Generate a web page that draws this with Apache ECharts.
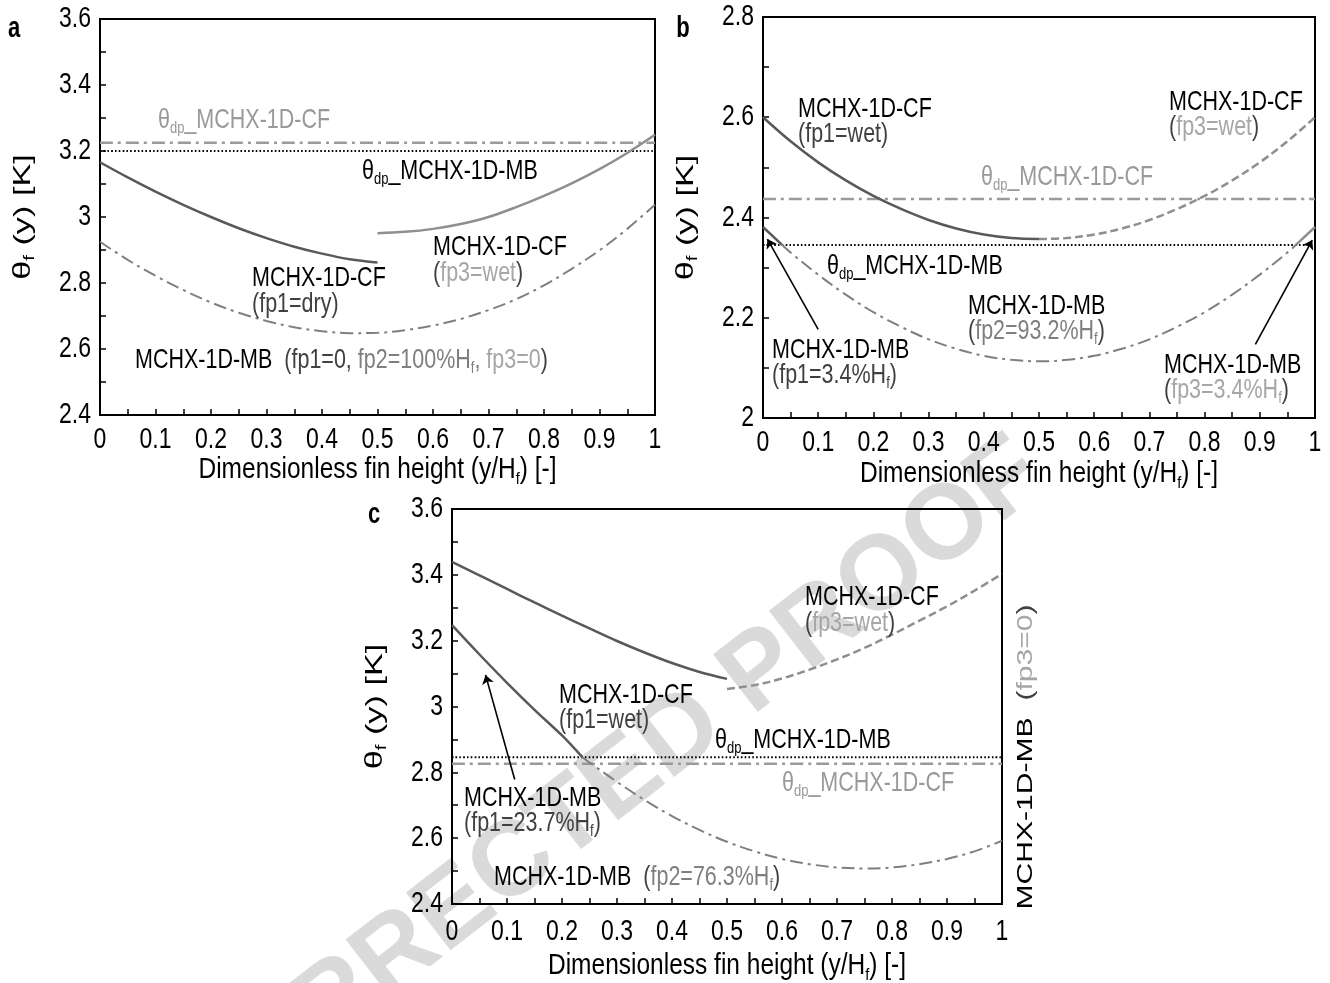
<!DOCTYPE html>
<html>
<head>
<meta charset="utf-8">
<script src="https://cdn.jsdelivr.net/npm/echarts@6/dist/echarts.min.js"></script>
<style>
  html, body { margin: 0; padding: 0; background: #ffffff; }
  #chart { width: 1330px; height: 983px; }
</style>
</head>
<body>
<div id="chart"></div>
<script>
// ---- positions along the fin (y/Hf) ----
const xLeftHalf  = [0, 0.05, 0.1, 0.15, 0.2, 0.25, 0.3, 0.35, 0.4, 0.45, 0.5];
const xRightHalf = [0.5, 0.55, 0.6, 0.65, 0.7, 0.75, 0.8, 0.85, 0.9, 0.95, 1];
const xFull      = [0, 0.05, 0.1, 0.15, 0.2, 0.25, 0.3, 0.35, 0.4, 0.45, 0.5,
                    0.55, 0.6, 0.65, 0.7, 0.75, 0.8, 0.85, 0.9, 0.95, 1];

// ---- tick labels ----
const xTickValues = [0, 0.1, 0.2, 0.3, 0.4, 0.5, 0.6, 0.7, 0.8, 0.9, 1];
const xTickLabels = ['0', '0.1', '0.2', '0.3', '0.4', '0.5', '0.6', '0.7', '0.8', '0.9', '1'];
const yTickValuesAC = [2.4, 2.6, 2.8, 3, 3.2, 3.4, 3.6];
const yTickLabelsAC = ['2.4', '2.6', '2.8', '3', '3.2', '3.4', '3.6'];
const yTickValuesB  = [2, 2.2, 2.4, 2.6, 2.8];
const yTickLabelsB  = ['2', '2.2', '2.4', '2.6', '2.8'];

// ---- panel a : fin temperature θf(y) [K] ----
const aCfFp1Dry = [3.166, 3.120, 3.077, 3.037, 3.000, 2.966, 2.936, 2.910, 2.889, 2.872, 2.862];
const aCfFp3Wet = [2.951, 2.955, 2.964, 2.979, 3.000, 3.030, 3.064, 3.102, 3.145, 3.194, 3.249];
const aMbFp2    = [2.925, 2.870, 2.822, 2.779, 2.741, 2.710, 2.685, 2.666, 2.654, 2.648, 2.649,
                   2.657, 2.671, 2.691, 2.718, 2.751, 2.793, 2.843, 2.899, 2.964, 3.037];
const aDewPointCF = 3.225;
const aDewPointMB = 3.200;

// ---- panel b ----
const bCfFp1Wet = [2.600, 2.552, 2.510, 2.474, 2.443, 2.417, 2.395, 2.378, 2.366, 2.359, 2.357];
const bCfFp3Wet = [2.357, 2.359, 2.366, 2.378, 2.395, 2.417, 2.443, 2.474, 2.510, 2.552, 2.600];
const bMbFp1X   = [0, 0.034];
const bMbFp1    = [2.381, 2.346];
const bMbFp2X   = [0.034, 0.05, 0.1, 0.15, 0.2, 0.25, 0.3, 0.35, 0.4, 0.45, 0.5,
                   0.55, 0.6, 0.65, 0.7, 0.75, 0.8, 0.85, 0.9, 0.95, 0.966];
const bMbFp2    = [2.346, 2.330, 2.286, 2.246, 2.211, 2.182, 2.157, 2.138, 2.124, 2.116, 2.113,
                   2.116, 2.124, 2.138, 2.157, 2.182, 2.211, 2.246, 2.286, 2.330, 2.346];
const bMbFp3X   = [0.966, 1];
const bMbFp3    = [2.346, 2.381];
const bDewPointCF = 2.437;
const bDewPointMB = 2.345;
const bArrowFp1 = [[0.100, 2.177], [0.008, 2.357]];
const bArrowFp3 = [[0.892, 2.147], [0.995, 2.355]];

// ---- panel c ----
const cCfFp1Wet = [3.439, 3.398, 3.357, 3.316, 3.276, 3.237, 3.199, 3.164, 3.132, 3.105, 3.084];
const cCfFp3Wet = [3.053, 3.065, 3.085, 3.112, 3.143, 3.178, 3.218, 3.261, 3.304, 3.352, 3.403];
const cMbFp1X   = [0, 0.05, 0.1, 0.15, 0.2, 0.237];
const cMbFp1    = [3.247, 3.158, 3.072, 2.990, 2.912, 2.846];
const cMbFp2X   = [0.237, 0.25, 0.3, 0.35, 0.4, 0.45, 0.5, 0.55, 0.6, 0.65, 0.7,
                   0.75, 0.8, 0.85, 0.9, 0.95, 1];
const cMbFp2    = [2.846, 2.830, 2.771, 2.716, 2.667, 2.625, 2.589, 2.560, 2.537, 2.521, 2.511,
                   2.508, 2.511, 2.521, 2.537, 2.560, 2.592];
const cDewPointCF = 2.826;
const cDewPointMB = 2.846;
const cArrowFp1 = [[0.114, 2.778], [0.061, 3.096]];

// ---- axis ranges ----
const yRanges = [[2.4, 3.6], [2.0, 2.8], [2.4, 3.6]];

// ---- styling ----
const FONT = '"Liberation Sans", Arial, Helvetica, sans-serif';
const C_BLACK = '#000000';
const C_DARK  = '#404040';
const C_MID   = '#7f7f7f';
const C_LIGHT = '#a6a6a6';
const C_DP    = '#999999';
const LINE_DARK  = '#595959';
const LINE_LIGHT = '#8f8f8f';
const LINE_MB    = '#7f7f7f';
const LINE_DPCF  = '#9a9a9a';
const DASH_DOT = [13, 5, 3, 5];
const DASHED   = [8, 4];
const DOTTED   = [1.6, 2.2];
const NOTE_SIZE = 21.5;
const TALL = 1.3;      // glyphs in this figure are drawn taller than wide
const LONG = 1.4;      // stretch of text running vertically

const zip = (xs, ys) => xs.map((x, i) => [x, ys[i]]);
const flat = (v) => [[0, v], [1, v]];

function curve(gi, data, color, width, type) {
  return {
    type: 'line', xAxisIndex: gi, yAxisIndex: gi, data: data,
    symbol: 'none', showSymbol: false, smooth: 0.35, silent: true,
    animation: false, z: 3,
    lineStyle: { color: color, width: width, type: type || 'solid' }
  };
}
function arrow(gi, coords) {
  return {
    type: 'lines', coordinateSystem: 'cartesian2d', xAxisIndex: gi, yAxisIndex: gi,
    data: [{ coords: coords }], symbol: ['none', 'arrow'], symbolSize: [0, 9],
    lineStyle: { color: '#000', width: 1.6, opacity: 1, curveness: 0 },
    silent: true, animation: false, z: 4
  };
}

// rich tokens (zrender style: fill)
function tok(color, size) {
  return { fill: color, fontSize: size, fontFamily: FONT, lineHeight: size + 5 };
}
function subTok(color, size) {
  return { fill: color, fontSize: size, fontFamily: FONT, lineHeight: 8, verticalAlign: 'bottom' };
}
const richSet = {
  k: tok(C_BLACK, NOTE_SIZE), d: tok(C_DARK, NOTE_SIZE), m: tok(C_MID, NOTE_SIZE),
  l: tok(C_LIGHT, NOTE_SIZE), g: tok(C_DP, NOTE_SIZE),
  ks: subTok(C_BLACK, 13), ds: subTok(C_DARK, 13), ms: subTok(C_MID, 13),
  ls: subTok(C_LIGHT, 13), gs: subTok(C_DP, 13),
  t: tok(C_BLACK, 24.5), ts: subTok(C_BLACK, 14.5)
};

function textEl(x, y, text, opt) {
  opt = opt || {};
  return {
    type: 'text', x: x, y: y, rotation: opt.rotation || 0,
    scaleX: opt.scaleX || 1, scaleY: opt.scaleY || 1,
    z: 10, silent: true,
    style: {
      text: text, rich: richSet, fontFamily: FONT, fontSize: opt.size || NOTE_SIZE,
      fontWeight: opt.weight || 'normal', fill: opt.fill || '#000',
      align: opt.align || 'left', verticalAlign: 'middle'
    }
  };
}
const note = (x, y, text) => textEl(x, y, text, { scaleY: TALL });

const gridBoxes = [
  { left: 100, top: 19, width: 555, height: 396 },
  { left: 763, top: 17, width: 552, height: 401 },
  { left: 452, top: 509, width: 550, height: 395 }
];
const grids = gridBoxes.map(g => Object.assign({}, g, {
  show: true, borderColor: '#000', borderWidth: 2, backgroundColor: 'transparent', containLabel: false
}));

const tickStyle = { show: true, inside: true, length: 6, lineStyle: { color: '#000', width: 1.5 } };
const minorStyle = { show: true, splitNumber: 2, length: 6, lineStyle: { color: '#000', width: 1.5 } };
const axisLineStyle = { show: true, onZero: false, lineStyle: { color: '#000', width: 2 } };

const xAxes = [0, 1, 2].map(i => ({
  type: 'value', gridIndex: i, min: 0, max: 1, interval: 0.1,
  axisLine: axisLineStyle, axisTick: tickStyle, minorTick: minorStyle,
  splitLine: { show: false }, axisLabel: { show: false }
}));
const yAxes = [0, 1, 2].map(i => ({
  type: 'value', gridIndex: i, min: yRanges[i][0], max: yRanges[i][1], interval: 0.2,
  axisLine: axisLineStyle, axisTick: tickStyle, minorTick: minorStyle,
  splitLine: { show: false }, axisLabel: { show: false }
}));

const series = [
  // panel a
  curve(0, flat(aDewPointCF), LINE_DPCF, 2.5, DASH_DOT),
  curve(0, flat(aDewPointMB), '#000', 2, DOTTED),
  curve(0, zip(xFull, aMbFp2), LINE_MB, 2, DASH_DOT),
  curve(0, zip(xLeftHalf, aCfFp1Dry), LINE_DARK, 2.5),
  curve(0, zip(xRightHalf, aCfFp3Wet), LINE_LIGHT, 2.5),
  // panel b
  curve(1, flat(bDewPointCF), LINE_DPCF, 2.5, DASH_DOT),
  curve(1, flat(bDewPointMB), '#000', 2, DOTTED),
  curve(1, zip(bMbFp1X, bMbFp1), LINE_DARK, 2.5),
  curve(1, zip(bMbFp2X, bMbFp2), LINE_MB, 2, DASH_DOT),
  curve(1, zip(bMbFp3X, bMbFp3), LINE_LIGHT, 2.5),
  curve(1, zip(xLeftHalf, bCfFp1Wet), LINE_DARK, 2.5),
  curve(1, zip(xRightHalf, bCfFp3Wet), LINE_LIGHT, 2.5, DASHED),
  arrow(1, bArrowFp1),
  arrow(1, bArrowFp3),
  // panel c
  curve(2, flat(cDewPointCF), LINE_DPCF, 2.5, DASH_DOT),
  curve(2, flat(cDewPointMB), '#000', 2, DOTTED),
  curve(2, zip(cMbFp1X, cMbFp1), LINE_DARK, 2.5),
  curve(2, zip(cMbFp2X, cMbFp2), LINE_MB, 2, DASH_DOT),
  curve(2, zip(xLeftHalf, cCfFp1Wet), LINE_DARK, 2.5),
  curve(2, zip(xRightHalf, cCfFp3Wet), LINE_LIGHT, 2.5, DASHED),
  arrow(2, cArrowFp1)
];

const chart = echarts.init(document.getElementById('chart'), null, { renderer: 'canvas' });
chart.setOption({
  animation: false,
  backgroundColor: '#ffffff',
  grid: grids,
  xAxis: xAxes,
  yAxis: yAxes,
  series: series
});

// ---- tick labels and axis titles, placed through each grid's scales ----
const panelText = { xLabelGap: [25, 25, 28], xTitleGap: [55, 56, 62], yTitleX: [23, 686, 375] };
const axisText = [];
[0, 1, 2].forEach(i => {
  const box = gridBoxes[i];
  const bottom = box.top + box.height;
  const yVals = i === 1 ? yTickValuesB : yTickValuesAC;
  const yLabs = i === 1 ? yTickLabelsB : yTickLabelsAC;
  xTickValues.forEach((v, k) => {
    const px = chart.convertToPixel({ gridIndex: i }, [v, yRanges[i][0]]);
    axisText.push(textEl(px[0], bottom + panelText.xLabelGap[i], xTickLabels[k],
      { size: 23, align: 'center', scaleY: TALL }));
  });
  yVals.forEach((v, k) => {
    const px = chart.convertToPixel({ gridIndex: i }, [0, v]);
    axisText.push(textEl(box.left - 9, px[1], yLabs[k],
      { size: 23, align: 'right', scaleY: TALL }));
  });
  axisText.push(textEl(box.left + box.width / 2, bottom + panelText.xTitleGap[i],
    '{t|Dimensionless fin height (y/H}{ts|f}{t|) [-]}', { size: 24.5, align: 'center', scaleY: 1.2 }));
  axisText.push(textEl(panelText.yTitleX[i], box.top + box.height / 2,
    '{t|θ}{ts|f}{t| (y) [K]}', { size: 24.5, align: 'center', rotation: Math.PI / 2, scaleX: LONG }));
});

const graphic = [
  // proof stamp across the lower figure
  {
    type: 'text', x: 1032, y: 462, rotation: 0.66, z: -1, silent: true,
    style: { text: 'UNCORRECTED PROOF', fontFamily: FONT, fontSize: 106, fontWeight: 'bold',
             fill: '#dadada', align: 'right', verticalAlign: 'middle' }
  },
  textEl(14, 29, 'a', { size: 22, weight: 'bold', align: 'center', scaleY: TALL }),
  textEl(683, 29, 'b', { size: 22, weight: 'bold', align: 'center', scaleY: TALL }),
  textEl(374, 515, 'c', { size: 22, weight: 'bold', align: 'center', scaleY: TALL }),

  // panel a notes
  note(158, 120, '{g|θ}{gs|dp}{g|_MCHX-1D-CF}'),
  note(362, 171, '{k|θ}{ks|dp}{k|_MCHX-1D-MB}'),
  note(252, 278, '{k|MCHX-1D-CF}'),
  note(252, 304, '{d|(fp1=dry)}'),
  note(433, 247, '{k|MCHX-1D-CF}'),
  note(433, 273, '{d|(}{l|fp3=wet}{d|)}'),
  note(135, 360, '{k|MCHX-1D-MB  }{d|(fp1=0, }{m|fp2=100%H}{ms|f}{m|, }{l|fp3=0}{d|)}'),

  // panel b notes
  note(798, 109, '{k|MCHX-1D-CF}'),
  note(798, 134, '{d|(fp1=wet)}'),
  note(1169, 102, '{k|MCHX-1D-CF}'),
  note(1169, 127, '{d|(}{l|fp3=wet}{d|)}'),
  note(981, 177, '{g|θ}{gs|dp}{g|_MCHX-1D-CF}'),
  note(827, 266, '{k|θ}{ks|dp}{k|_MCHX-1D-MB}'),
  note(968, 306, '{k|MCHX-1D-MB}'),
  note(968, 331, '{d|(}{m|fp2=93.2%H}{ms|f}{d|)}'),
  note(772, 350, '{k|MCHX-1D-MB}'),
  note(772, 375, '{d|(fp1=3.4%H}{ds|f}{d|)}'),
  note(1164, 365, '{k|MCHX-1D-MB}'),
  note(1164, 390, '{d|(}{l|fp3=3.4%H}{ls|f}{d|)}'),

  // panel c notes
  note(805, 597, '{k|MCHX-1D-CF}'),
  note(805, 623, '{d|(}{l|fp3=wet}{d|)}'),
  note(559, 695, '{k|MCHX-1D-CF}'),
  note(559, 720, '{d|(fp1=wet)}'),
  note(715, 740, '{k|θ}{ks|dp}{k|_MCHX-1D-MB}'),
  note(782, 783, '{g|θ}{gs|dp}{g|_MCHX-1D-CF}'),
  note(464, 798, '{k|MCHX-1D-MB}'),
  note(464, 823, '{d|(fp1=23.7%H}{ds|f}{d|)}'),
  note(494, 877, '{k|MCHX-1D-MB  }{d|(}{m|fp2=76.3%H}{ms|f}{d|)}'),
  textEl(1026, 757, '{k|MCHX-1D-MB  }{d|(}{l|fp3=0}{d|)}',
    { align: 'center', rotation: Math.PI / 2, scaleX: LONG })
].concat(axisText);

chart.setOption({ graphic: graphic });
</script>
</body>
</html>
